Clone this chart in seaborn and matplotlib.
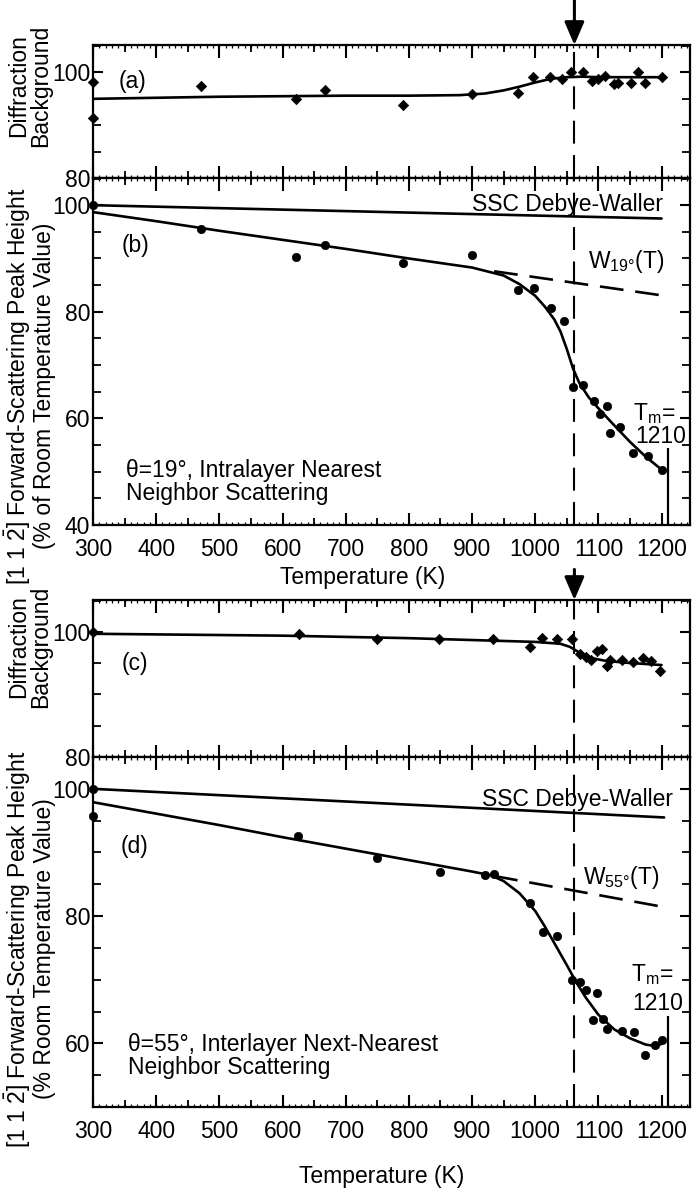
import matplotlib
matplotlib.use("Agg")
import matplotlib.pyplot as plt
import seaborn as sns
from matplotlib.ticker import MultipleLocator, NullLocator

# ---------------- data ----------------
# (a) diffraction background, theta = 19 deg
temp_a = [300, 300, 471, 622, 668, 790, 900, 972, 997, 1023, 1042, 1057, 1075,
          1090, 1100, 1110, 1124, 1131, 1152, 1163, 1173, 1200]
bg_a = [98.1, 91.4, 97.5, 95.0, 96.6, 93.9, 95.9, 96.1, 99.2, 99.1, 98.7, 100.0,
        100.0, 98.4, 98.8, 99.3, 97.9, 98.0, 98.0, 100.1, 98.0, 99.1]
fit_temp_a = [300, 400, 500, 600, 700, 800, 880, 920, 950, 975, 1000, 1025,
              1050, 1075, 1100, 1150, 1204]
fit_a = [95.0, 95.2, 95.4, 95.5, 95.6, 95.6, 95.7, 96.0, 96.6, 97.3, 98.1, 98.8,
         99.1, 99.2, 99.1, 99.1, 99.1]

# (b) forward-scattering peak height, theta = 19 deg
temp_b = [300, 471, 622, 668, 790, 900, 972, 998, 1025, 1046, 1060, 1075, 1093,
          1103, 1113, 1119, 1134, 1155, 1178, 1201]
peak_b = [100.0, 95.6, 90.3, 92.6, 89.1, 90.6, 84.1, 84.5, 80.7, 78.2, 65.8, 66.3,
          63.2, 60.9, 62.3, 57.3, 58.3, 53.5, 52.9, 50.4]
fit_temp_b = [300, 400, 500, 600, 700, 800, 900, 950, 975, 1000, 1015, 1030, 1040,
              1050, 1060, 1070, 1085, 1100, 1125, 1150, 1175, 1201]
fit_b = [98.7, 97.0, 95.2, 93.5, 91.8, 90.0, 88.3, 86.8, 85.2, 83.0, 81.0, 78.6,
         76.3, 73.0, 69.3, 66.6, 63.9, 61.9, 58.7, 55.6, 52.8, 50.3]
dw_temp_b = [300, 1200]
dw_b = [100.0, 97.5]
w19_temp = [935, 1205]
w19 = [87.6, 83.0]
tm_span_b = [40.0, 54.5]

# (c) diffraction background, theta = 55 deg
temp_c = [300, 626, 750, 848, 933, 991, 1011, 1034, 1058, 1071, 1081, 1089, 1097,
          1105, 1113, 1118, 1137, 1155, 1171, 1184, 1198]
bg_c = [100.0, 99.6, 98.8, 98.8, 98.8, 97.6, 99.0, 98.9, 98.9, 96.4, 96.0, 95.5,
        97.0, 97.3, 94.5, 95.5, 95.5, 95.2, 95.9, 95.4, 93.8]
fit_temp_c = [300, 400, 500, 600, 700, 800, 900, 1000, 1040, 1055, 1065, 1075,
              1090, 1110, 1140, 1170, 1200]
fit_c = [99.7, 99.6, 99.5, 99.4, 99.2, 99.0, 98.7, 98.4, 98.1, 97.6, 97.0, 96.4,
         95.8, 95.4, 95.1, 94.9, 94.7]

# (d) forward-scattering peak height, theta = 55 deg
temp_d = [300, 300, 624, 750, 849, 921, 935, 991, 1012, 1035, 1059, 1071, 1081,
          1092, 1097, 1107, 1113, 1138, 1156, 1173, 1189, 1200]
peak_d = [100.0, 95.8, 92.6, 89.1, 87.0, 86.5, 86.6, 82.1, 77.5, 76.9, 69.9, 69.7,
          68.4, 63.7, 67.9, 63.9, 62.2, 62.0, 61.8, 58.2, 59.7, 60.6]
fit_temp_d = [300, 400, 500, 600, 700, 800, 900, 930, 950, 975, 1000, 1015, 1030,
              1050, 1065, 1080, 1100, 1125, 1150, 1175, 1190, 1200]
fit_d = [97.9, 96.1, 94.3, 92.4, 90.6, 88.8, 87.0, 86.4, 85.5, 83.6, 80.8, 78.4,
         75.8, 72.3, 69.6, 67.2, 64.5, 62.2, 60.8, 59.8, 59.6, 59.9]
dw_temp_d = [300, 1204]
dw_d = [100.0, 95.5]
w55_temp = [935, 1205]
w55 = [86.3, 81.4]
tm_span_d = [50.0, 64.3]

T_ONSET = 1062     # onset temperature marked by arrows and dashed guide
T_MELT = 1210      # bulk melting temperature

# ---------------- style ----------------
sns.set_theme(style="ticks")
plt.rcParams["font.family"] = ["Liberation Sans", "DejaVu Sans"]
plt.rcParams.update({
    "mathtext.fontset": "custom",
    "mathtext.rm": "Liberation Sans",
    "mathtext.it": "Liberation Sans:italic",
    "mathtext.bf": "Liberation Sans:bold",
    "mathtext.default": "rm",
    "axes.linewidth": 1.6,
    "axes.edgecolor": "black",
    "text.color": "black",
    "axes.labelcolor": "black",
    "xtick.color": "black",
    "ytick.color": "black",
    "font.size": 16,
})
FS = 16.5

W, H = 692, 1190
fig = plt.figure(figsize=(W / 100, H / 100), dpi=100)
fig.patch.set_facecolor("white")


def panel(top, bottom):
    return fig.add_axes([93 / W, 1 - bottom / H, 597 / W, (bottom - top) / H])


ax_a = panel(45, 178)
ax_b = panel(178, 525)
ax_c = panel(600, 757)
ax_d = panel(757, 1107)


def style_axis(ax, ylim, show_xlabels):
    ax.set_xlim(300, 1245)
    ax.set_ylim(*ylim)
    # fine 10 K ticks on a twin x axis
    tw = ax.twiny()
    tw.set_xlim(ax.get_xlim())
    tw.xaxis.set_major_locator(MultipleLocator(10))
    tw.xaxis.set_minor_locator(NullLocator())
    tw.tick_params(axis="x", which="major", direction="in", length=2.5, width=0.9,
                   top=True, bottom=True, labeltop=False, labelbottom=False)
    for s in tw.spines.values():
        s.set_visible(False)
    ax.xaxis.set_major_locator(MultipleLocator(100))
    ax.xaxis.set_minor_locator(MultipleLocator(50))
    ax.yaxis.set_major_locator(MultipleLocator(20))
    ax.yaxis.set_minor_locator(MultipleLocator(5))
    ax.tick_params(which="both", direction="in", top=True, right=True,
                   bottom=True, left=True, labelsize=FS)
    ax.tick_params(axis="x", which="major", length=9, width=1.5, pad=9,
                   labelbottom=show_xlabels, labeltop=False)
    ax.tick_params(axis="x", which="minor", length=5, width=1.3)
    ax.tick_params(axis="y", which="major", length=7, width=1.5, pad=2)
    ax.tick_params(axis="y", which="minor", length=6, width=1.3)
    ax.set_xlabel("")
    ax.set_ylabel("")
    for s in ax.spines.values():
        s.set_linewidth(1.6)
        s.set_visible(True)


def dashed(ax, x, y, pattern, lw):
    sns.lineplot(x=x, y=y, ax=ax, color="black", lw=lw, estimator=None, sort=False)
    ax.lines[-1].set_dashes(pattern)


def solid(ax, x, y):
    sns.lineplot(x=x, y=y, ax=ax, color="black", lw=1.9, estimator=None, sort=False)


def points(ax, x, y, marker, size):
    sns.scatterplot(x=x, y=y, ax=ax, marker=marker, s=size, color="black",
                    edgecolor="black", linewidth=0.5, clip_on=False, zorder=4)


# ---- (a)
solid(ax_a, fit_temp_a, fit_a)
points(ax_a, temp_a, bg_a, "D", 28)
ax_a.text(363, 98.3, "(a)", ha="center", va="center", fontsize=FS)

# ---- (b)
solid(ax_b, dw_temp_b, dw_b)
solid(ax_b, fit_temp_b, fit_b)
dashed(ax_b, w19_temp, w19, (9, 4.5), 1.9)
points(ax_b, temp_b, peak_b, "o", 36)
ax_b.vlines(T_MELT, tm_span_b[0], tm_span_b[1], color="black", lw=1.6)
ax_b.text(1202, 100.2, "SSC Debye-Waller", ha="right", va="center", fontsize=FS)
ax_b.text(1083, 89.4, "W$_{19°}$(T)", ha="left", va="center", fontsize=FS)
ax_b.text(1155, 61.0, "T$_{m}$=", ha="left", va="center", fontsize=FS)
ax_b.text(1158, 56.6, "1210", ha="left", va="center", fontsize=FS)
ax_b.text(368, 92.5, "(b)", ha="center", va="center", fontsize=FS)
ax_b.text(352, 48.0, "θ=19°, Intralayer Nearest\nNeighbor Scattering",
          ha="left", va="center", fontsize=FS, linespacing=1.0)

# ---- (c)
solid(ax_c, fit_temp_c, fit_c)
points(ax_c, temp_c, bg_c, "D", 28)
ax_c.text(366, 94.9, "(c)", ha="center", va="center", fontsize=FS)

# ---- (d)
solid(ax_d, dw_temp_d, dw_d)
solid(ax_d, fit_temp_d, fit_d)
dashed(ax_d, w55_temp, w55, (9, 4.5), 1.9)
points(ax_d, temp_d, peak_d, "o", 36)
ax_d.vlines(T_MELT, tm_span_d[0], tm_span_d[1], color="black", lw=1.6)
ax_d.text(1218, 98.3, "SSC Debye-Waller", ha="right", va="center", fontsize=FS)
ax_d.text(1075, 86.0, "W$_{55°}$(T)", ha="left", va="center", fontsize=FS)
ax_d.text(1152, 70.8, "T$_{m}$=", ha="left", va="center", fontsize=FS)
ax_d.text(1153, 66.3, "1210", ha="left", va="center", fontsize=FS)
ax_d.text(366, 91.0, "(d)", ha="center", va="center", fontsize=FS)
ax_d.text(355, 58.0, "θ=55°, Interlayer Next-Nearest\nNeighbor Scattering",
          ha="left", va="center", fontsize=FS, linespacing=1.0)

# axes styling
style_axis(ax_a, (80, 105.2), False)
style_axis(ax_b, (40, 105.1), True)
style_axis(ax_c, (80, 105.1), False)
style_axis(ax_d, (50, 105.0), True)

# dashed onset guide through every panel
for ax in (ax_a, ax_b, ax_c, ax_d):
    ax.axvline(T_ONSET, color="black", lw=1.5, dashes=(11, 5.5), zorder=1)

# onset arrows above panels (a) and (c)
for ax, rise in ((ax_a, 33), (ax_c, 22)):
    ax.annotate("", xy=(T_ONSET, 1.0), xycoords=("data", "axes fraction"),
                xytext=(0, rise), textcoords="offset points",
                arrowprops=dict(arrowstyle="-|>,head_length=0.7,head_width=0.3",
                                color="black", lw=2.2, shrinkA=0, shrinkB=0,
                                mutation_scale=20),
                annotation_clip=False)

# axis titles
fig.text(30 / W, 1 - 86 / H, "Diffraction\nBackground", rotation=90,
         ha="center", va="center", fontsize=FS, linespacing=0.95)
fig.text(30 / W, 1 - 647 / H, "Diffraction\nBackground", rotation=90,
         ha="center", va="center", fontsize=FS, linespacing=0.95)
fig.text(29 / W, 1 - 386 / H,
         "[1 1 $\\bar{2}$] Forward-Scattering Peak Height\n(% of Room Temperature Value)",
         rotation=90, ha="center", va="center", fontsize=FS, linespacing=1.0)
fig.text(29 / W, 1 - 949 / H,
         "[1 1 $\\bar{2}$] Forward-Scattering Peak Height\n(% Room Temperature Value)",
         rotation=90, ha="center", va="center", fontsize=FS, linespacing=1.0)
fig.text(363 / W, 1 - 577 / H, "Temperature (K)", ha="center", va="center",
         fontsize=FS)
fig.text(382 / W, 1 - 1177 / H, "Temperature (K)", ha="center", va="center",
         fontsize=FS)

fig.savefig("out.png", dpi=100, facecolor="white")
